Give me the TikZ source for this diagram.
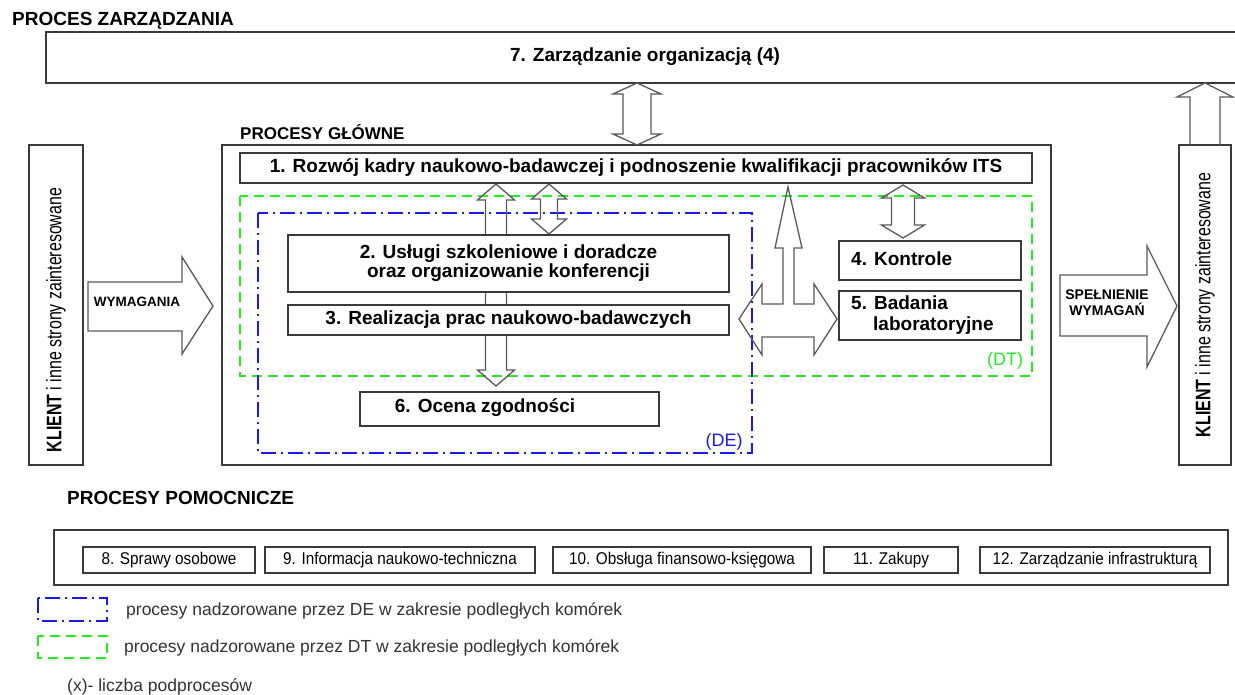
\documentclass[tikz,border=0pt]{standalone}
\usepackage{fontspec}
\setmainfont{Liberation Sans}
\newfontfamily\narrowfont[FakeStretch=0.9]{Liberation Sans}
\newfontfamily\klientfont[FakeStretch=0.76]{Liberation Sans}
\definecolor{lineg}{HTML}{3A3A3A}
\definecolor{arrg}{HTML}{5A5A5A}
\definecolor{dtgreen}{HTML}{22EE22}
\definecolor{deblue}{HTML}{1A1AF0}
\newcommand\vdarrow[6]{%
  \draw[blk] (#1,#2) -- (#1+#4,#2+#6) -- (#1+#5,#2+#6) -- (#1+#5,#3-#6) -- (#1+#4,#3-#6) -- (#1,#3)
    -- (#1-#4,#3-#6) -- (#1-#5,#3-#6) -- (#1-#5,#2+#6) -- (#1-#4,#2+#6) -- cycle;}
\begin{document}
\begin{tikzpicture}[x=1pt,y=-1pt,
  box/.style={draw=lineg, line width=1.6pt, fill=white, inner sep=0pt},
  blk/.style={draw=arrg, line width=1.3pt, line join=miter},
  bigtxt/.style={font=\fontsize{19}{21}\selectfont\bfseries, inner sep=0pt},
  headtxt/.style={font=\fontsize{19}{21}\selectfont\bfseries, inner sep=0pt, anchor=west},
  smallbox/.style={box, line width=1.3pt, minimum height=26pt, font=\narrowfont\fontsize{17}{19}\selectfont},
  legtxt/.style={font=\fontsize{17.5}{20}\selectfont, inner sep=0pt, anchor=west, text=black!80},
  dtline/.style={draw=dtgreen, line width=1.8pt, dash pattern=on 10pt off 6pt},
  deline/.style={draw=deblue, line width=1.8pt, dash pattern=on 15pt off 5pt on 2pt off 5pt}]
\useasboundingbox (0,0) rectangle (1235,695);
\fill[white] (0,0) rectangle (1235,695);

% headings
\node[headtxt] (hz) at (12,21) {PROCES ZARZĄDZANIA};
\node[headtxt, font=\fontsize{17}{20}\selectfont\bfseries] (hg) at (240,132) {PROCESY GŁÓWNE};
\node[headtxt] (hp) at (67,498) {PROCESY POMOCNICZE};

% big frames
\node[box, minimum width=1194pt, minimum height=51pt] (top) at (643,57.5) {};
\node[bigtxt] (toptxt) at (645,57) {7. Zarządzanie organizacją (4)};
\node[box, minimum width=829pt, minimum height=320pt] (main) at (636.5,305) {};
\node[box, minimum width=54pt, minimum height=320pt] (kl) at (56,305) {};
\node[box, minimum width=52pt, minimum height=320pt] (kr) at (1205,305) {};
\node[rotate=90, inner sep=0pt, font=\klientfont\fontsize{21}{24}\selectfont] (kltxt) at (56,320) {\textbf{KLIENT} i inne strony zainteresowane};
\node[rotate=90, inner sep=0pt, font=\klientfont\fontsize{21}{24}\selectfont] (krtxt) at (1205,305) {\textbf{KLIENT} i inne strony zainteresowane};

% supervision frames
\draw[dtline] (240,196) rectangle (1032,376);
\draw[deline] (258,213) rectangle (752,453);
\node[inner sep=0pt, text=dtgreen, font=\fontsize{18}{20}\selectfont] (dt) at (1005,361) {(DT)};
\node[inner sep=0pt, text=deblue, font=\fontsize{18}{20}\selectfont] (de) at (724,442) {(DE)};

% block arrows
\vdarrow{637}{83}{145}{24}{14}{11}
\vdarrow{496}{184}{386}{18.5}{10.5}{16}
\vdarrow{549}{184}{234}{17.5}{8.5}{15}
\vdarrow{903}{185}{238}{21.5}{11.5}{13}
\draw[blk] (739,319) -- (762,284) -- (762,304) -- (783,304) -- (783,248) -- (775,248) -- (788,187)
  -- (802,248) -- (794,248) -- (794,304) -- (814,304) -- (814,284) -- (837,319) -- (814,355)
  -- (814,337) -- (762,337) -- (762,355) -- cycle;
\draw[blk] (88,282) -- (182,282) -- (182,257) -- (213,306) -- (182,354) -- (182,331) -- (88,331) -- cycle;
\node[inner sep=0pt, font=\fontsize{13.5}{15}\selectfont\bfseries] (wym) at (137,302) {WYMAGANIA};
\draw[blk] (1060,275) -- (1147,275) -- (1147,246) -- (1177,306) -- (1147,367) -- (1147,336) -- (1060,336) -- cycle;
\node[inner sep=0pt, align=center, font=\fontsize{14}{16}\selectfont\bfseries] (spel) at (1107,303) {SPEŁNIENIE\\WYMAGAŃ};
\draw[blk] (1190,145) -- (1190,97) -- (1177,97) -- (1205,83) -- (1233,97) -- (1220,97) -- (1220,145);

% process boxes
\node[box, minimum width=792pt, minimum height=30pt, font=\fontsize{19}{21}\selectfont\bfseries] (b1) at (636,168)
  {1. Rozwój kadry naukowo-badawczej i podnoszenie kwalifikacji pracowników ITS};
\node[box, minimum width=441pt, minimum height=57pt, align=center, font=\fontsize{19}{19}\selectfont\bfseries] (b2) at (508.5,263.5)
  {2. Usługi szkoleniowe i doradcze\\oraz organizowanie konferencji};
\node[box, minimum width=441pt, minimum height=30pt, font=\fontsize{19}{21}\selectfont\bfseries] (b3) at (508.5,320)
  {3. Realizacja prac naukowo-badawczych};
\node[box, minimum width=299pt, minimum height=34pt] (b6) at (509.5,409) {};
\node[bigtxt] (b6t) at (485,408) {6. Ocena zgodności};
\node[box, minimum width=182pt, minimum height=39pt] (b4) at (930,260.5) {};
\node[bigtxt, anchor=west] (b4t) at (851,259) {4. Kontrole};
\node[box, minimum width=182pt, minimum height=49pt] (b5) at (930,315.5) {};
\node[bigtxt, anchor=west, align=left] (b5t) at (851,315.5) {5. Badania\\\hspace*{22pt}laboratoryjne};

% support processes
\node[box, minimum width=1174pt, minimum height=55pt] (bot) at (641,557.5) {};
\node[smallbox, minimum width=172pt] (p8) at (169,560) {8. Sprawy osobowe};
\node[smallbox, minimum width=270pt] (p9) at (400,560) {9. Informacja naukowo-techniczna};
\node[smallbox, minimum width=258pt] (p10) at (682,560) {10. Obsługa finansowo-księgowa};
\node[smallbox, minimum width=134pt] (p11) at (891,560) {11. Zakupy};
\node[smallbox, minimum width=230pt] (p12) at (1095,560) {12. Zarządzanie infrastrukturą};

% legend
\draw[deline] (38,598) rectangle (107,621);
\node[legtxt] (l1) at (126,611) {procesy nadzorowane przez DE w zakresie podległych komórek};
\draw[dtline] (38,636) rectangle (107,658);
\node[legtxt] (l2) at (124,648) {procesy nadzorowane przez DT w zakresie podległych komórek};
\node[legtxt] (l3) at (67,687) {(x)- liczba podprocesów};
\end{tikzpicture}
\end{document}
